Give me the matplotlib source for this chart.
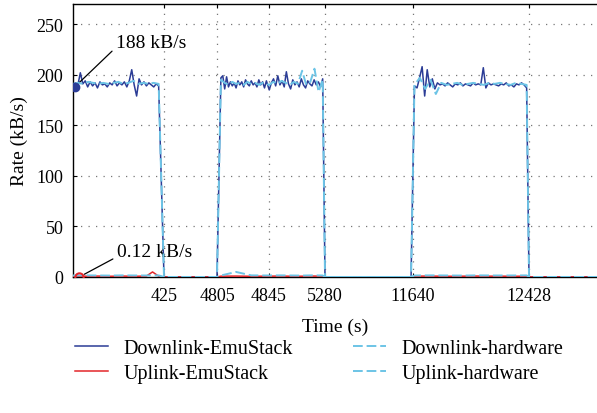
import numpy as np
import matplotlib
matplotlib.use("Agg")
import matplotlib.pyplot as plt

plt.rcParams["font.family"] = ["Liberation Serif", "DejaVu Serif"]
plt.rcParams["font.size"] = 13

# --- data (kB/s), one list per burst ---
# burst spans in seconds (burst 2 is logged in two parts around 4845 s)
B1 = (0, 400)
B2A = (4808, 4843)
B2B = (4847, 5262)
B3 = (11650, 12412)
ZERO_T = [425, 4805, 5280, 11500, 12428, 12890]

dl_emu_b1 = [188, 192, 190, 202, 191, 194, 188, 193, 189, 192, 187, 193, 190, 191, 188, 192, 190, 194,
             189, 192, 190, 193, 188, 194, 205, 190, 179, 196, 190, 193, 189, 192, 190, 188, 191, 189]
dl_emu_b2a = [197, 199, 186, 198, 188, 193, 189, 192, 187, 194, 190, 193, 188, 195, 191, 189, 194, 190,
              192, 188, 195, 190, 193, 187, 194]
dl_emu_b2b = [185, 192, 196, 189, 199, 190, 194, 188, 203, 191, 186, 195, 190, 193, 188, 196, 190, 187,
              194, 191, 189, 195, 190, 193, 188, 196]
dl_emu_b3 = [189, 187, 197, 208, 179, 205, 188, 196, 186, 192, 190, 191, 189, 192, 190, 188, 191, 190,
             192, 189, 191, 190, 189, 192, 190, 191, 190, 207, 187, 192, 190, 191, 190, 189, 191, 190,
             192, 189, 190, 188, 191, 190, 192, 190, 187]

dl_hw_b1 = [191, 192, 191, 193, 192, 191, 192, 191, 192, 193, 191, 192, 194, 191, 192, 191, 192, 191]
dl_hw_b2a = [195, 192, 190, 193, 191, 192, 190, 193, 191, 192, 190, 192, 191]
dl_hw_b2b = [190, 193, 191, 194, 192, 190, 193, 191, 204, 190, 193, 206, 183, 195]
dl_hw_b3 = [190, 197, 186, 195, 181, 192, 190, 191, 192, 190, 191, 192, 191, 190, 192, 191, 192, 191,
            190, 192, 191, 190]

ul_emu_b1 = [0.12, 0.6, 0.8, 0.7, 0.9, 0.8, 0.7, 0.8, 0.9, 0.8, 0.7, 0.8, 0.9, 5.0, 0.8]
ul_emu_b2a = [0.8, 0.9, 0.7, 0.8]
ul_emu_b2b = [0.8, 0.9, 0.8, 0.7, 0.8, 0.9, 0.8]
ul_emu_b3 = [0.8, 0.9, 0.8, 0.7, 0.8, 0.9, 0.8, 0.8, 0.7, 0.8]

ul_hw_b1 = [1.5, 1.6, 1.5, 1.4, 1.6, 1.5, 1.5, 1.6]
ul_hw_b2a = [1.5, 5.0, 1.6, 1.5]
ul_hw_b2b = [1.5, 1.6, 1.5, 1.4, 1.6, 1.5]
ul_hw_b3 = [1.5, 1.6, 1.5, 1.4, 1.6, 1.5, 1.5, 1.6]

# annotated start values
mark_t = [8, 30]
mark_v = [188, 0.12]

tick_t = [425, 4805, 4845, 5280, 11640, 12428]
tick_labels = [str(t) for t in tick_t]
yticks = [0, 50, 100, 150, 200, 250]


def assemble(b1, b2a, b2b, b3):
    parts_t = [np.linspace(*B1, len(b1)), ZERO_T[0:2],
               np.linspace(*B2A, len(b2a)), np.linspace(*B2B, len(b2b)), ZERO_T[2:4],
               np.linspace(*B3, len(b3)), ZERO_T[4:6]]
    parts_v = [b1, [0, 0], b2a, b2b, [0, 0], b3, [0, 0]]
    return np.concatenate(parts_t), np.concatenate(parts_v)


# compressed time axis (the recording gaps are squeezed)
KNOT_T = np.array([0, 425, 4805, 4845, 5280, 11640, 12428, 12890])
KNOT_U = np.array([0, 91, 144, 196, 252, 340, 456, 524])


def fwd(t):
    return np.interp(t, KNOT_T, KNOT_U)


def inv(u):
    return np.interp(u, KNOT_U, KNOT_T)


DARK = "#2b3c96"
LIGHT = "#6cc4e6"
RED = "#e3262a"

fig = plt.figure(figsize=(5.97, 4.14), dpi=100)
ax = fig.add_axes([73 / 597, 1 - 278 / 414, 524 / 597, 273 / 414])
ax.set_xscale("function", functions=(fwd, inv))

t, v = assemble(dl_emu_b1, dl_emu_b2a, dl_emu_b2b, dl_emu_b3)
ax.plot(t, v, color=DARK, lw=1.1, label="Downlink-EmuStack", zorder=3)
t, v = assemble(ul_emu_b1, ul_emu_b2a, ul_emu_b2b, ul_emu_b3)
ax.plot(t, v, color=RED, lw=1.1, label="Uplink-EmuStack", zorder=3)
t, v = assemble(dl_hw_b1, dl_hw_b2a, dl_hw_b2b, dl_hw_b3)
ax.plot(t, v, color=LIGHT, lw=1.4, ls=(0, (5, 2)), label="Downlink-hardware", zorder=4)
t, v = assemble(ul_hw_b1, ul_hw_b2a, ul_hw_b2b, ul_hw_b3)
ax.plot(t, v, color=LIGHT, lw=1.4, ls=(0, (5, 2)), label="Uplink-hardware", zorder=4)

ax.plot(mark_t[0], mark_v[0], "o", color=DARK, ms=6, zorder=5)
ax.plot(mark_t[1], mark_v[1], "o", color=RED, mfc="none", mew=1.5, ms=6, zorder=5)

ax.annotate("188 kB/s", xy=(mark_t[0], mark_v[0]), xytext=(200, 232), ha="left", va="center",
            fontsize=14,
            arrowprops=dict(arrowstyle="-", color="black", lw=0.9, relpos=(0, 0.2), shrinkA=1, shrinkB=4))
ax.annotate("0.12 kB/s", xy=(mark_t[1], mark_v[1]), xytext=(205, 25), ha="left", va="center",
            fontsize=14,
            arrowprops=dict(arrowstyle="-", color="black", lw=0.9, relpos=(0, 0.2), shrinkA=1, shrinkB=4))

ax.set_xlim(0, 12890)
ax.set_ylim(0, 270)
ax.set_xticks(tick_t)
ax.set_xticklabels(tick_labels)
ax.set_yticks(yticks)
ax.tick_params(direction="in", length=3, top=True, width=0.8)
ax.tick_params(axis="x", pad=7)
ax.tick_params(axis="y", pad=7)
ax.grid(True, color="#777777", lw=0.9, ls=(0, (1, 5)))
ax.spines["right"].set_visible(False)
for s in ["left", "top", "bottom"]:
    ax.spines[s].set_linewidth(1.0)

ax.set_xlabel("Time (s)", labelpad=10, fontsize=14)
ax.set_ylabel("Rate (kB/s)", labelpad=6, fontsize=14)

handles, labels = ax.get_legend_handles_labels()
fig.legend(handles, labels, ncol=2, loc="upper left", bbox_to_anchor=(75 / 597, 1 - 340 / 414),
           frameon=False, borderpad=0, borderaxespad=0, handlelength=1.65, handletextpad=0.75,
           columnspacing=3.0, labelspacing=0.3, fontsize=14.5)

fig.savefig("out.png", dpi=100)
